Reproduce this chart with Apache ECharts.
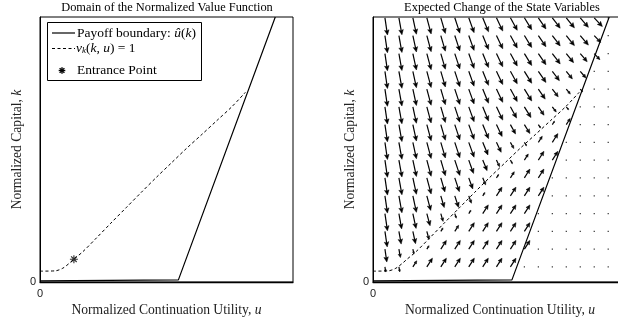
<!DOCTYPE html>
<html>
<head>
<meta charset="utf-8">
<script src="https://cdn.jsdelivr.net/npm/echarts@6/dist/echarts.min.js"></script>
<style>
html, body { margin: 0; padding: 0; background: #fff; }
#chart { width: 618px; height: 318px; }
</style>
</head>
<body>
<div id="chart"></div>
<script>
// payoff boundary u = û(k)
const payoffU = [0, 0.547, 0.93];
const payoffK = [0.004, 0.008, 1.0];

// v_k(k,u) = 1 curve
const vkU = [0, 0.06, 0.09, 0.115, 0.134, 0.17, 0.225, 0.28, 0.34, 0.40, 0.46, 0.52, 0.58, 0.64, 0.70, 0.76, 0.812];
const vkK = [0.041, 0.042, 0.052, 0.07, 0.086, 0.115, 0.168, 0.222, 0.28, 0.338, 0.395, 0.45, 0.505, 0.557, 0.61, 0.663, 0.716];

// entrance point
const entranceU = [0.134];
const entranceK = [0.086];

// quiver grid
const gridU = [0.047, 0.102, 0.157, 0.212, 0.267, 0.322, 0.377, 0.432, 0.486, 0.541, 0.596, 0.651, 0.706, 0.761, 0.816, 0.871, 0.926];
const gridK = [0.057, 0.124, 0.191, 0.258, 0.325, 0.393, 0.46, 0.527, 0.594, 0.661, 0.728, 0.795, 0.862, 0.93, 0.997];

// full-length drift per column above the curve (thousandths of the axis)
const downU = [10, 12, 14, 17, 18, 20, 21, 23, 25, 27, 29, 30, 31, 32, 32, 32, 33];
const downK = [-65, -64, -62, -61, -59, -58, -56, -53, -50, -47, -45, -42, -39, -38, -36, -33, -32];
// full-length drift below the curve
const upU = 22;
const upK = 33;

// relative size per grid point, bottom row first (>0 drift down, <0 drift up, 0 = no drift)
const driftSize = [
  [0.3, 0.3, -0.7, -1, -1, -1, -1, -1, -1, -1, 0, 0, 0, 0, 0, 0, 0],
  [0.75, 0.5, 0.3, -0.4, -1, -1, -1, -1, -1, -1, -1, 0, 0, 0, 0, 0, 0],
  [0.9, 0.75, 0.75, 0.5, -0.4, -0.7, -1, -1, -1, -1, -1, 0, 0, 0, 0, 0, 0],
  [1, 0.9, 0.9, 0.75, 0.5, 0.3, -0.4, -1, -1, -1, -1, 0, 0, 0, 0, 0, 0],
  [1, 1, 1, 0.9, 0.75, 0.75, 0.5, -0.4, -1, -1, -1, -1, 0, 0, 0, 0, 0],
  [1, 1, 1, 1, 0.9, 0.9, 0.75, 0.5, -0.4, -0.7, -1, -1, 0, 0, 0, 0, 0],
  [1, 1, 1, 1, 1, 1, 0.9, 0.75, 0.5, 0.3, -0.7, -1, -1, 0, 0, 0, 0],
  [1, 1, 1, 1, 1, 1, 1, 0.9, 0.75, 0.5, 0.3, -0.7, -1, 0, 0, 0, 0],
  [1, 1, 1, 1, 1, 1, 1, 1, 0.9, 0.75, 0.75, 0.3, -0.4, -0.7, 0, 0, 0],
  [1, 1, 1, 1, 1, 1, 1, 1, 1, 0.9, 0.9, 0.75, 0.5, 0.3, 0, 0, 0],
  [1, 1, 1, 1, 1, 1, 1, 1, 1, 1, 1, 0.9, 0.75, 0.5, 0.3, 0, 0],
  [1, 1, 1, 1, 1, 1, 1, 1, 1, 1, 1, 1, 0.9, 0.75, 0.7, 0, 0],
  [1, 1, 1, 1, 1, 1, 1, 1, 1, 1, 1, 1, 1, 0.9, 0.85, 0.7, 0],
  [1, 1, 1, 1, 1, 1, 1, 1, 1, 1, 1, 1, 1, 1, 1, 0.8, 0],
  [1, 1, 1, 1, 1, 1, 1, 1, 1, 1, 1, 1, 1, 1, 1, 1, 0]
];

const SERIF = '"Liberation Serif", "Times New Roman", serif';
const SANS = '"Liberation Sans", Arial, sans-serif';

const zip = (a, b) => a.map((v, i) => [v, b[i]]);

// build quiver data [u, k, du, dk]
const quiver = [];
driftSize.forEach((row, r) => {
  row.forEach((s, c) => {
    let du = 0, dk = 0;
    if (s > 0) { du = downU[c] * s / 1000; dk = downK[c] * s / 1000; }
    else if (s < 0) { du = upU * -s / 1000; dk = upK * -s / 1000; }
    quiver.push([gridU[c], gridK[r], du, dk]);
  });
});

const mathRich = size => ({
  n: { fontFamily: SERIF, fontSize: size, color: '#222' },
  i: { fontFamily: SERIF, fontSize: size, fontStyle: 'italic', color: '#222' },
  s: { fontFamily: SERIF, fontSize: 9, fontStyle: 'italic', color: '#222', padding: [5, 0, 0, 0] }
});

function xAxisCfg(idx) {
  return {
    gridIndex: idx, type: 'value', min: 0, max: 1, interval: 1,
    name: '{n|Normalized Continuation Utility, }{i|u}',
    nameLocation: 'middle', nameGap: 19,
    nameTextStyle: { rich: mathRich(13.6) },
    axisLine: { show: true, lineStyle: { color: '#000', width: 1.3 } },
    axisTick: { show: false },
    splitLine: { show: false },
    axisLabel: {
      margin: 6, fontFamily: SANS, fontSize: 11, color: '#222',
      formatter: v => (v === 0 ? '0' : '')
    }
  };
}
function yAxisCfg(idx) {
  return {
    gridIndex: idx, type: 'value', min: 0, max: 1, interval: 1,
    name: '{n|Normalized Capital, }{i|k}',
    nameLocation: 'middle', nameGap: 16, nameRotate: 90,
    nameTextStyle: { rich: mathRich(13.6) },
    axisLine: { show: true, lineStyle: { color: '#000', width: 1 } },
    axisTick: { show: false },
    splitLine: { show: false },
    axisLabel: {
      margin: 4, fontFamily: SANS, fontSize: 11, color: '#222',
      formatter: v => (v === 0 ? '0' : '')
    }
  };
}

function renderArrow(params, api) {
  const u = api.value(0), k = api.value(1);
  const p0 = api.coord([u, k]);
  const p1 = api.coord([u + api.value(2), k + api.value(3)]);
  const dx = p1[0] - p0[0], dy = p1[1] - p0[1];
  const len = Math.hypot(dx, dy);
  if (len < 0.5) {
    return {
      type: 'rect',
      shape: { x: p0[0] - 0.6, y: p0[1] - 0.6, width: 1.2, height: 1.2 },
      style: { fill: '#333' }
    };
  }
  const ux = dx / len, uy = dy / len;
  const h = Math.min(5, len * 0.42), w = h * 0.45;
  const bx = p1[0] - ux * h * 0.8, by = p1[1] - uy * h * 0.8;
  const hx = p1[0] - ux * h, hy = p1[1] - uy * h;
  return {
    type: 'group',
    children: [
      { type: 'line', shape: { x1: p0[0], y1: p0[1], x2: bx, y2: by }, style: { stroke: '#000', lineWidth: 1.2 } },
      {
        type: 'polygon',
        shape: { points: [[p1[0], p1[1]], [hx - uy * w, hy + ux * w], [bx, by], [hx + uy * w, hy - ux * w]] },
        style: { fill: '#000', stroke: '#000', lineWidth: 0.5 }
      }
    ]
  };
}

const starPath = 'path://M4.3,0L5.7,0L5.7,10L4.3,10Z M0,4.3L10,4.3L10,5.7L0,5.7Z M1,2L2,1L9,8L8,9Z M8,1L9,2L2,9L1,8Z';

// legend asterisk made of four strokes
function legendStar(cx, cy, r) {
  const d = r * 0.72;
  const seg = (x1, y1, x2, y2) => ({
    type: 'line', z: 12, shape: { x1, y1, x2, y2 }, style: { stroke: '#000', lineWidth: 1.4 }
  });
  return [
    seg(cx - r, cy, cx + r, cy),
    seg(cx, cy - r, cx, cy + r),
    seg(cx - d, cy - d, cx + d, cy + d),
    seg(cx - d, cy + d, cx + d, cy - d)
  ];
}

const chart = echarts.init(document.getElementById('chart'), null, { renderer: 'canvas' });

chart.setOption({
  animation: false,
  backgroundColor: '#fff',
  grid: [
    { left: 40, top: 17, width: 253, height: 265, show: true, borderColor: '#000', borderWidth: 1, outerBoundsMode: 'none' },
    { left: 373, top: 17, width: 254, height: 265, show: true, borderColor: '#000', borderWidth: 1, outerBoundsMode: 'none' }
  ],
  xAxis: [xAxisCfg(0), xAxisCfg(1)],
  yAxis: [yAxisCfg(0), yAxisCfg(1)],
  series: [
    {
      type: 'line', xAxisIndex: 0, yAxisIndex: 0, showSymbol: false, z: 5,
      data: zip(payoffU, payoffK),
      lineStyle: { color: '#000', width: 1.2 }
    },
    {
      type: 'line', xAxisIndex: 0, yAxisIndex: 0, showSymbol: false, smooth: 0.3, z: 5,
      data: zip(vkU, vkK),
      lineStyle: { color: '#000', width: 1, type: [3, 2.5] }
    },
    {
      type: 'scatter', xAxisIndex: 0, yAxisIndex: 0, z: 6,
      data: zip(entranceU, entranceK),
      symbol: starPath, symbolSize: 8,
      itemStyle: { color: '#000' }
    },
    {
      type: 'custom', xAxisIndex: 1, yAxisIndex: 1, z: 3,
      renderItem: renderArrow,
      data: quiver,
      clip: false
    },
    {
      type: 'line', xAxisIndex: 1, yAxisIndex: 1, showSymbol: false, z: 5,
      data: zip(payoffU, payoffK),
      lineStyle: { color: '#000', width: 1.2 }
    },
    {
      type: 'line', xAxisIndex: 1, yAxisIndex: 1, showSymbol: false, smooth: 0.3, z: 5,
      data: zip(vkU, vkK),
      lineStyle: { color: '#000', width: 1, type: [3, 2.5] }
    }
  ],
  graphic: [
    {
      type: 'text', x: 167, y: 8,
      style: { text: '{t|Domain of the Normalized Value Function}', align: 'center', verticalAlign: 'middle',
        rich: { t: { fontFamily: SERIF, fontSize: 12.4, color: '#222' } } }
    },
    {
      type: 'text', x: 502, y: 8,
      style: { text: '{t|Expected Change of the State Variables}', align: 'center', verticalAlign: 'middle',
        rich: { t: { fontFamily: SERIF, fontSize: 12.4, color: '#222' } } }
    },
    {
      type: 'rect', shape: { x: 47.5, y: 22.5, width: 154, height: 58 },
      style: { fill: '#fff', stroke: '#000', lineWidth: 1 }, z: 10
    },
    {
      type: 'line', shape: { x1: 52, y1: 33, x2: 75, y2: 33 },
      style: { stroke: '#000', lineWidth: 1.2 }, z: 11
    },
    {
      type: 'line', shape: { x1: 52, y1: 48.5, x2: 75, y2: 48.5 },
      style: { stroke: '#000', lineWidth: 1, lineDash: [3, 2.5] }, z: 11
    },
    ...legendStar(62, 70.5, 3.3),
    {
      type: 'text', x: 77, y: 33, z: 11,
      style: {
        text: '{n|Payoff boundary: }{i|û}{n|(}{i|k}{n|)}', verticalAlign: 'middle',
        rich: mathRich(13.5)
      }
    },
    {
      type: 'text', x: 76, y: 48.5, z: 11,
      style: {
        text: '{i|v}{s|k}{n|(}{i|k}{n|, }{i|u}{n|) = 1}', verticalAlign: 'middle',
        rich: mathRich(13.5)
      }
    },
    {
      type: 'text', x: 77, y: 70.5, z: 11,
      style: { text: '{n|Entrance Point}', verticalAlign: 'middle', rich: mathRich(13.5) }
    }
  ]
});
</script>
</body>
</html>
